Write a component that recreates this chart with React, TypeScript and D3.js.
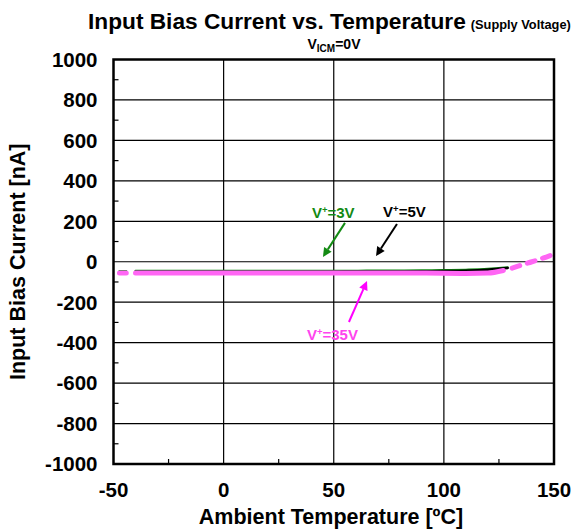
import React from "react";
import * as d3 from "d3";

// Ambient temperature grid (°C) for the measured segment of each curve
const temps = [-40, -30, -20, -10, 0, 10, 20, 30, 40, 50, 60, 70, 80, 90, 100, 110, 120, 129];
// Input bias current (nA) per supply voltage
const bias3V = [-44, -44, -44, -44, -44, -44, -44, -44, -44, -44, -44, -43, -43, -42, -41, -39, -35, -27];
const bias5V = [-49, -49, -49, -49, -49, -49, -49, -49, -49, -49, -48, -48, -48, -47, -46, -44, -39, -31];
const bias35V = [-56, -56, -56, -56, -56, -56, -56, -56, -56, -56, -56, -56, -56, -56, -57, -58, -56, -43];

// Short cold-end pieces
const coldTemps = [-47.3, -44.2];
const cold3V = [-46, -46];
const cold35V = [-56, -56];

// Hot-end extension of the 35 V curve (dashed)
const hotTemps = [131, 135, 140, 145, 150];
const hot35V = [-32, -17, 0, 18, 38];

// Axis ticks
const xTicks = [-50, 0, 50, 100, 150];
const xMinor = [-25, 25, 75, 125];
const yTicks = [-1000, -800, -600, -400, -200, 0, 200, 400, 600, 800, 1000];
const yMinor = [-900, -700, -500, -300, -100, 100, 300, 500, 700, 900];

// Annotation labels with arrows: label anchor (T, nA), arrow from (T, nA), arrow to (T, nA)
const labels = [
  { v: "3V", color: "#138a13", text: [40.1, 216], from: [55.1, 192], to: [45.1, 24] },
  { v: "5V", color: "#000000", text: [72.4, 221], from: [78.7, 187], to: [69.2, 28] },
  { v: "35V", color: "#ff44ee", arrow: "#ff00ff", text: [37.8, -387], from: [56.9, -298], to: [65.1, -95] },
];

const FONT = "'Liberation Sans', Arial, sans-serif";

export default function App() {
  const W = 577;
  const H = 532;
  const left = 113.5;
  const right = 554;
  const top = 59.5;
  const bottom = 464;

  const x = d3.scaleLinear().domain([-50, 150]).range([left, right]);
  const y = d3.scaleLinear().domain([-1000, 1000]).range([bottom, top]);

  const line = (ts: number[], vs: number[]) =>
    d3.line<number>().x((_, i) => x(ts[i])).y((d) => y(d)).curve(d3.curveMonotoneX)(vs) || "";

  const arrowHead = (from: number[], to: number[]) => {
    const x1 = x(from[0]), y1 = y(from[1]);
    const x2 = x(to[0]), y2 = y(to[1]);
    const a = Math.atan2(y2 - y1, x2 - x1);
    const len = 9, wid = 4.5;
    const bx = x2 - len * Math.cos(a), by = y2 - len * Math.sin(a);
    const px = -Math.sin(a) * wid, py = Math.cos(a) * wid;
    return {
      shaft: `M${x1},${y1}L${bx},${by}`,
      head: `M${x2},${y2}L${bx + px},${by + py}L${bx - px},${by - py}Z`,
    };
  };

  return (
    <svg width={W} height={H} style={{ display: "block", position: "absolute", left: 0, top: 0 }} fontFamily={FONT}>
      <rect width={W} height={H} fill="#fff" />

      {/* titles */}
      <text x={88} y={29} fontSize={22.7} fontWeight="bold" fill="#000">
        Input Bias Current vs. Temperature
        <tspan fontSize={12.8} dx={5}>(Supply Voltage)</tspan>
      </text>
      <text x={334} y={49} fontSize={14} fontWeight="bold" textAnchor="middle" fill="#000">
        V<tspan fontSize={10} dy={3}>ICM</tspan>
        <tspan dy={-3}>=0V</tspan>
      </text>

      {/* grid */}
      {xTicks.slice(1, -1).map((t) => (
        <line key={"gx" + t} x1={x(t)} x2={x(t)} y1={top} y2={bottom} stroke="#000" strokeWidth={1.2} />
      ))}
      {yTicks.slice(1, -1).map((t) => (
        <line key={"gy" + t} x1={left} x2={right} y1={y(t)} y2={y(t)} stroke="#000" strokeWidth={1.2} />
      ))}
      {xMinor.map((t) => (
        <line key={"mx" + t} x1={x(t)} x2={x(t)} y1={bottom} y2={bottom - 5} stroke="#000" strokeWidth={1.2} />
      ))}
      {yMinor.map((t) => (
        <line key={"my" + t} x1={left} x2={left + 5} y1={y(t)} y2={y(t)} stroke="#000" strokeWidth={1.2} />
      ))}

      {/* curves */}
      <path d={line(coldTemps, cold3V)} fill="none" stroke="#138a13" strokeWidth={2} strokeLinecap="round" />
      <path d={line(temps, bias3V)} fill="none" stroke="#138a13" strokeWidth={2} strokeLinecap="round" />
      <path d={line(temps, bias5V)} fill="none" stroke="#000" strokeWidth={2.5} strokeLinecap="round" />
      <path d={line(coldTemps, cold35V)} fill="none" stroke="#ff66f4" strokeWidth={5} strokeLinecap="round" />
      <path d={line(temps.slice(0, -1).concat([127]), bias35V)} fill="none" stroke="#ff66f4" strokeWidth={5} strokeLinecap="round" />
      <path d={line(hotTemps, hot35V)} fill="none" stroke="#ff66f4" strokeWidth={5} strokeLinecap="round" strokeDasharray="8 8" />

      {/* frame */}
      <rect x={left} y={top} width={right - left} height={bottom - top} fill="none" stroke="#000" strokeWidth={2.5} />

      {/* annotations */}
      {labels.map((l) => {
        const a = arrowHead(l.from, l.to);
        const ac = l.arrow || l.color;
        return (
          <g key={l.v}>
            <path d={a.shaft} stroke={ac} strokeWidth={2} />
            <path d={a.head} fill={ac} />
            <text x={x(l.text[0])} y={y(l.text[1])} fontSize={15} fontWeight="bold" fill={l.color}>
              V<tspan fontSize={9.5} dy={-5.5}>+</tspan>
              <tspan dy={5.5}>={l.v}</tspan>
            </text>
          </g>
        );
      })}

      {/* tick labels */}
      {yTicks.map((t) => (
        <text key={"yl" + t} x={left - 16} y={y(t)} dy="0.36em" textAnchor="end" fontSize={20.5} fontWeight="bold">
          {t}
        </text>
      ))}
      {xTicks.map((t) => (
        <text key={"xl" + t} x={x(t)} y={bottom + 33} textAnchor="middle" fontSize={20.5} fontWeight="bold">
          {t}
        </text>
      ))}

      {/* axis titles */}
      <text x={331} y={524} textAnchor="middle" fontSize={21.5} fontWeight="bold">
        Ambient Temperature [ºC]
      </text>
      <text transform={`translate(25,${(top + bottom) / 2}) rotate(-90)`} textAnchor="middle" fontSize={21.5} fontWeight="bold">
        Input Bias Current [nA]
      </text>
    </svg>
  );
}
